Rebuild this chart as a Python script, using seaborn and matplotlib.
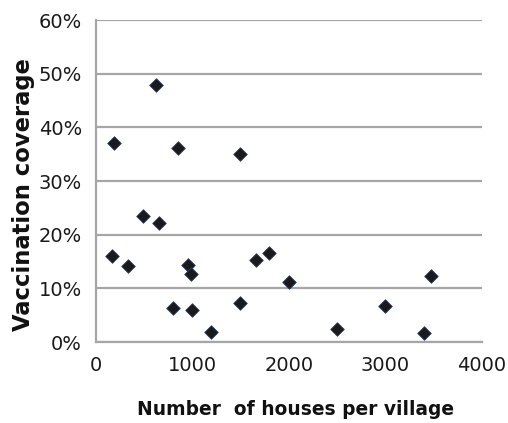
import matplotlib
matplotlib.use("Agg")
import matplotlib.pyplot as plt
import seaborn as sns
import pandas as pd
from matplotlib.ticker import FuncFormatter

houses = [166, 187, 330, 490, 620, 650, 800, 850, 950, 985, 995, 1190,
          1490, 1490, 1660, 1790, 2000, 2500, 2995, 3400, 3470]
coverage = [16.1, 37.0, 14.1, 23.4, 47.9, 22.1, 6.4, 36.1, 14.3, 12.7, 5.9, 1.9,
            35.0, 7.2, 15.3, 16.5, 11.2, 2.4, 6.7, 1.7, 12.3]
x_ticks = [0, 1000, 2000, 3000, 4000]
y_ticks = [0, 10, 20, 30, 40, 50, 60]

df = pd.DataFrame({"houses": houses, "coverage": coverage})

sns.set_style("white")
plt.rcParams["font.family"] = ["DejaVu Sans"]

fig = plt.figure(figsize=(5.08, 4.23), dpi=100)
ax = fig.add_axes([96 / 508, 1 - 342 / 423, (482 - 96) / 508, (342 - 20) / 423])

ax.set_xlim(0, 4000)
ax.set_ylim(0, 60)
ax.set_yticks(y_ticks)
ax.set_xticks(x_ticks)
ax.yaxis.set_major_formatter(FuncFormatter(lambda v, p: f"{int(v)}%"))
ax.grid(axis="y", color="#a6a6a6", linewidth=1.6)
ax.set_axisbelow(True)

sns.scatterplot(data=df, x="houses", y="coverage", marker="D", s=48,
                color="#1a1a1a", edgecolor="#2c3e66", linewidth=0.6, ax=ax,
                zorder=3, clip_on=False)

for side in ["top", "right"]:
    ax.spines[side].set_visible(False)
for side in ["left", "bottom"]:
    ax.spines[side].set_color("#a6a6a6")
    ax.spines[side].set_linewidth(1.6)

ax.tick_params(axis="both", length=0, labelsize=14, colors="#1a1a1a")
ax.tick_params(axis="y", pad=10)
ax.tick_params(axis="x", pad=10)

ax.set_xlabel("Number  of houses per village", fontsize=13.4, fontweight="bold",
              color="#111111")
ax.set_ylabel("Vaccination coverage", fontsize=16.3, fontweight="bold",
              color="#111111")
ax.xaxis.set_label_coords(0.518, -0.180)
ax.yaxis.set_label_coords(-0.158, 0.457)

fig.savefig("out.png", dpi=100, facecolor="white")
